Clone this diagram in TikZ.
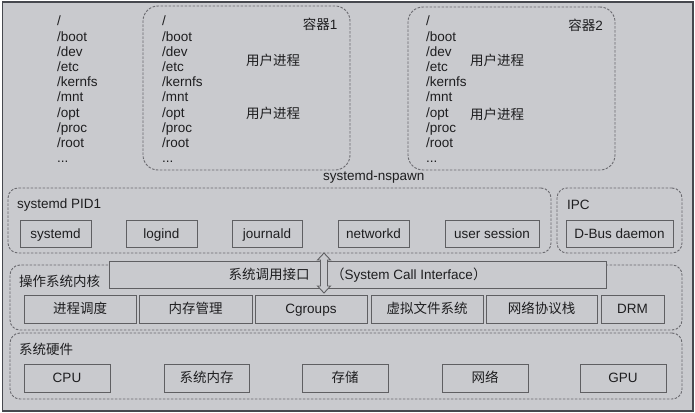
\documentclass[tikz,border=0pt]{standalone}
\usepackage{fontspec}
\setmainfont{Liberation Sans}
\newfontfamily\cjk{Noto Sans CJK SC}
\definecolor{bgc}{RGB}{201,202,206}
\definecolor{framec}{RGB}{70,72,78}
\definecolor{boxc}{RGB}{95,95,98}
\definecolor{dashc}{RGB}{105,105,110}
\definecolor{txtc}{RGB}{30,30,32}
\begin{document}
\begin{tikzpicture}[x=1pt,y=-1pt,
  every node/.style={text=txtc, font=\fontsize{13.5}{15.2}\selectfont, inner sep=0pt},
  lab/.style={text height=9.8pt, text depth=0pt},
  box/.style={lab, draw=boxc, line width=1pt, fill=bgc},
  grp/.style={draw=dashc, line width=0.9pt, dash pattern=on 2.5pt off 1.5pt, rounded corners=12pt},
  lst/.style={anchor=north west, align=left},
  ttl/.style={lab, anchor=west}]
\useasboundingbox (0,0) rectangle (695,412);
\fill[white] (0,0) rectangle (695,412);
\node[draw=framec, line width=1.5pt, fill=bgc, minimum width=690.5, minimum height=408.5, anchor=north west] (frame) at (1.5,1.5) {};

% top: root file system and containers
\node[lst] (fs0) at (57,16) {/\\/boot\\/dev\\/etc\\/kernfs\\/mnt\\/opt\\/proc\\/root\\...};
\node[grp, rounded corners=15pt, minimum width=207, minimum height=164] (c1) at (246.5,88) {};
\node[lst] (fs1) at (162,16) {/\\/boot\\/dev\\/etc\\/kernfs\\/mnt\\/opt\\/proc\\/root\\...};
\node[lab] (c1t) at (320,25) {{\cjk 容器}1};
\node[lab] (c1p1) at (273,61) {\cjk 用户进程};
\node[lab] (c1p2) at (273,114) {\cjk 用户进程};
\node[grp, rounded corners=15pt, minimum width=207, minimum height=163] (c2) at (511.5,88.5) {};
\node[lst] (fs2) at (426,16) {/\\/boot\\/dev\\/etc\\/kernfs\\/mnt\\/opt\\/proc\\/root\\...};
\node[lab] (c2t) at (585.5,26) {{\cjk 容器}2};
\node[lab] (c2p1) at (497,61) {\cjk 用户进程};
\node[lab] (c2p2) at (497,115) {\cjk 用户进程};
\node[ttl] (nsp) at (323,176) {systemd-nspawn};

% systemd PID1
\node[grp, rounded corners=10pt, minimum width=543, minimum height=65] (pid1) at (279.5,220.5) {};
\node[ttl] (pid1t) at (17,204) {systemd PID1};
\node[box, minimum width=71, minimum height=27] (sd) at (55.5,233.5) {systemd};
\node[box, minimum width=71, minimum height=27] (lg) at (161.5,233.5) {logind};
\node[box, minimum width=70, minimum height=27] (jd) at (267,233.5) {journald};
\node[box, minimum width=71, minimum height=27] (nd) at (373.5,233.5) {networkd};
\node[box, minimum width=94, minimum height=27] (us) at (492,233.5) {user session};
% IPC
\node[grp, rounded corners=10pt, minimum width=125, minimum height=65] (ipc) at (619.5,220.5) {};
\node[ttl] (ipct) at (567,205) {IPC};
\node[box, minimum width=107, minimum height=27] (dbus) at (619.5,233.5) {D-Bus daemon};

% kernel
\node[grp, rounded corners=10pt, minimum width=672, minimum height=65] (kern) at (346,297.5) {};
\node[ttl] (kernt) at (19,282) {\cjk 操作系统内核};
\node[box, minimum width=497, minimum height=27] (sci) at (357.5,274.5) {};
\node[lab] (sci1) at (269,274.5) {\cjk 系统调用接口};
\node[lab, anchor=west] (sci2) at (331,274.5) {{\cjk （}System Call Interface{\cjk ）}};
\node[box, minimum width=112, minimum height=28] (k1) at (80,309) {\cjk 进程调度};
\node[box, minimum width=113, minimum height=28] (k2) at (195.5,309) {\cjk 内存管理};
\node[box, minimum width=112, minimum height=28] (k3) at (311,309) {Cgroups};
\node[box, minimum width=112, minimum height=28] (k4) at (427,309) {\cjk 虚拟文件系统};
\node[box, minimum width=111, minimum height=28] (k5) at (541.5,309) {\cjk 网络协议栈};
\node[box, minimum width=63, minimum height=28] (k6) at (632.5,309) {DRM};
% double block arrow between user space and kernel
\coordinate (arrc) at (324,273);
\draw[draw=boxc, fill=bgc, line width=0.9pt, line join=miter, shift={(arrc)}]
  (-3.5,-13) -- (-6.5,-13) -- (0,-20) -- (6.5,-13) -- (3.5,-13) -- (3.5,13) -- (6.5,13) -- (0,20)
  -- (-6.5,13) -- (-3.5,13) -- cycle;

% hardware
\node[grp, rounded corners=10pt, minimum width=672, minimum height=66] (hw) at (346,366) {};
\node[ttl] (hwt) at (19,350) {\cjk 系统硬件};
\node[box, minimum width=86, minimum height=28] (h1) at (67,378) {CPU};
\node[box, minimum width=85, minimum height=28] (h2) at (206.5,378) {\cjk 系统内存};
\node[box, minimum width=86, minimum height=28] (h3) at (345,378) {\cjk 存储};
\node[box, minimum width=86, minimum height=28] (h4) at (485,378) {\cjk 网络};
\node[box, minimum width=86, minimum height=28] (h5) at (623,378) {GPU};
\end{tikzpicture}
\end{document}
